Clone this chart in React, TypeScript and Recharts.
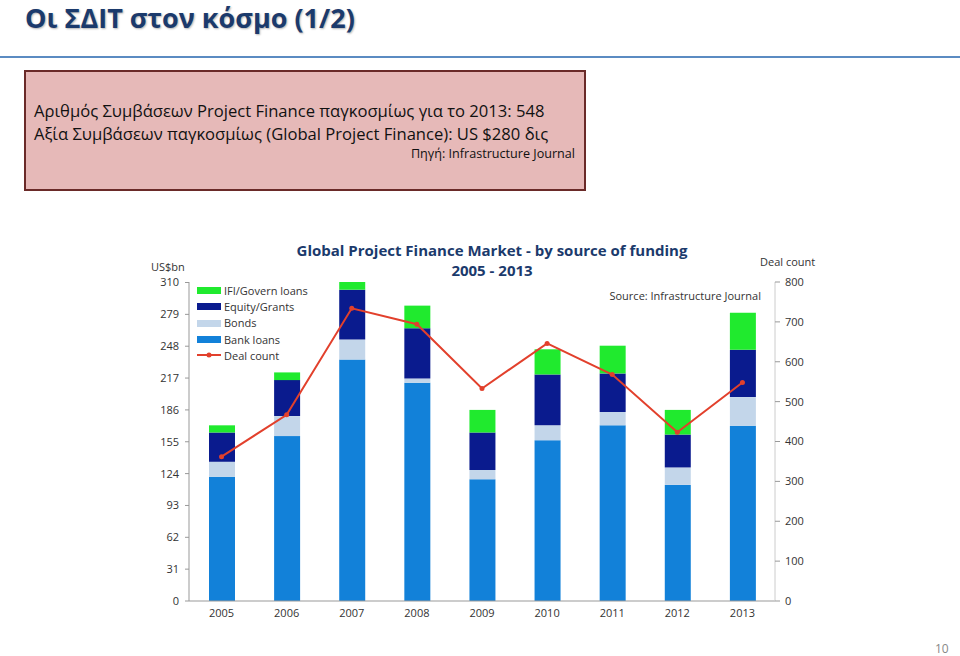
import { ComposedChart, Bar, Line, XAxis, YAxis, Legend } from "recharts";

const years = ["2005", "2006", "2007", "2008", "2009", "2010", "2011", "2012", "2013"];
const bankLoans = [121, 160.5, 235, 212.5, 118.5, 156.5, 171, 113, 170.5];
const bonds = [14.5, 19.5, 19.5, 4, 9, 14.5, 13, 17, 28];
const equity = [28.5, 35, 48.5, 49, 36.5, 49.5, 37.5, 32, 46];
const ifiLoans = [7, 7.5, 7.5, 22, 22, 24.5, 27, 24, 36];
const dealCount = [362, 467, 734, 694, 533, 646, 568, 423, 548];

const leftTicks = [0, 31, 62, 93, 124, 155, 186, 217, 248, 279, 310];
const rightTicks = [0, 100, 200, 300, 400, 500, 600, 700, 800];
const bandEdges = [1, 2, 3, 4, 5, 6, 7, 8];
const legendOrder = ["IFI/Govern loans", "Equity/Grants", "Bonds", "Bank loans", "Deal count"];

const data = years.map((year, i) => ({
  year,
  idx: i + 0.5,
  bank: bankLoans[i],
  bonds: bonds[i],
  equity: equity[i],
  ifi: ifiLoans[i],
  deals: dealCount[i],
}));

const FONT = '"Open Sans", "Noto Sans", sans-serif';
const tickStyle = { fontSize: 11, fill: "#333", fontFamily: FONT };
const navy = "#1b3a6c";

function LegendBox({ payload }: any) {
  const items = [...(payload || [])].sort(
    (a: any, b: any) => legendOrder.indexOf(a.value) - legendOrder.indexOf(b.value)
  );
  return (
    <div style={{ fontFamily: FONT, fontSize: 11, color: "#333" }}>
      {items.map((it: any) => (
        <div key={it.value} style={{ display: "flex", alignItems: "center", height: 16.3 }}>
          <svg width={24} height={10} style={{ marginRight: 3 }}>
            {it.value === "Deal count" ? (
              <>
                <line x1={0} y1={5} x2={24} y2={5} stroke={it.color} strokeWidth={2} />
                <circle cx={12} cy={5} r={2.5} fill={it.color} />
              </>
            ) : (
              <rect x={0} y={2} width={24} height={7} fill={it.color} />
            )}
          </svg>
          <span>{it.value}</span>
        </div>
      ))}
    </div>
  );
}

export default function App() {
  return (
    <div style={{ position: "absolute", left: 0, top: 0, width: 960, height: 656, background: "#fff", overflow: "hidden" }}>
      <div
        style={{
          position: "absolute", left: 25, top: 2, fontFamily: FONT, fontWeight: 700, fontSize: 27,
          lineHeight: "32px", color: navy, textShadow: "1px 1px 2px rgba(0,0,0,0.3)", whiteSpace: "nowrap",
        }}
      >
        Οι ΣΔΙΤ στον κόσμο (1/2)
      </div>
      <div style={{ position: "absolute", left: 0, top: 56, width: 960, height: 2, background: "#5b8bc2" }} />
      <div
        style={{
          position: "absolute", left: 24, top: 70, width: 558, height: 117, background: "#e6b9b8",
          border: "2px solid #6a2a28", fontFamily: FONT, color: "#111",
        }}
      >
        <div style={{ position: "absolute", left: 8, top: 28, fontSize: 16.6, lineHeight: "22px", whiteSpace: "nowrap" }}>
          Αριθμός Συμβάσεων Project Finance παγκοσμίως για το 2013: 548
        </div>
        <div style={{ position: "absolute", left: 8, top: 51, fontSize: 16.6, lineHeight: "22px", whiteSpace: "nowrap" }}>
          Αξία Συμβάσεων παγκοσμίως (Global Project Finance): US $280 δις
        </div>
        <div style={{ position: "absolute", right: 9, top: 74, fontSize: 12.6, lineHeight: "16px", whiteSpace: "nowrap" }}>
          Πηγή: Infrastructure Journal
        </div>
      </div>

      <div style={{ position: "absolute", left: 0, top: 240, width: 960, textAlign: "center", paddingLeft: 24, boxSizing: "border-box", fontFamily: FONT, fontWeight: 700, fontSize: 15, color: navy, lineHeight: "20px" }}>
        Global Project Finance Market - by source of funding
        <br />
        2005 - 2013
      </div>
      <div style={{ position: "absolute", left: 151, top: 259, fontFamily: FONT, fontSize: 11, color: "#333" }}>US$bn</div>
      <div style={{ position: "absolute", left: 760, top: 254, fontFamily: FONT, fontSize: 11, color: "#333" }}>Deal count</div>
      <div style={{ position: "absolute", right: 199, top: 288, fontFamily: FONT, fontSize: 11, color: "#333" }}>
        Source: Infrastructure Journal
      </div>

      <div style={{ position: "absolute", left: 0, top: 0 }}>
        <ComposedChart
          width={960}
          height={656}
          data={data}
          margin={{ top: 282, right: 135, bottom: 24, left: 140 }}
          barSize={26}
        >
          <XAxis
            xAxisId="edge"
            type="number"
            dataKey="idx"
            domain={[0, 9]}
            ticks={bandEdges}
            axisLine={false}
            tick={false}
            tickSize={4}
            tickLine={{ stroke: "#999" }}
            height={1}
          />
          <XAxis
            dataKey="year"
            tick={tickStyle}
            tickLine={false}
            tickSize={0}
            tickMargin={8}
            axisLine={{ stroke: "#999" }}
            height={30}
          />
          <YAxis
            yAxisId="left"
            domain={[0, 310]}
            ticks={leftTicks}
            interval={0}
            width={49}
            tick={tickStyle}
            tickSize={4}
            tickMargin={6}
            tickLine={{ stroke: "#999" }}
            axisLine={{ stroke: "#999" }}
          />
          <YAxis
            yAxisId="right"
            orientation="right"
            domain={[0, 800]}
            ticks={rightTicks}
            interval={0}
            width={50}
            tick={tickStyle}
            tickSize={5}
            tickMargin={5}
            tickLine={{ stroke: "#999" }}
            axisLine={{ stroke: "#ccc" }}
          />
          <Legend
            layout="vertical"
            align="center"
            verticalAlign="middle"
            wrapperStyle={{ left: 197, top: 282, width: 140 }}
            content={<LegendBox />}
          />
          <Bar yAxisId="left" dataKey="bank" name="Bank loans" stackId="a" fill="#1281d9" isAnimationActive={false} />
          <Bar yAxisId="left" dataKey="bonds" name="Bonds" stackId="a" fill="#c3d6ea" isAnimationActive={false} />
          <Bar yAxisId="left" dataKey="equity" name="Equity/Grants" stackId="a" fill="#0a1b8e" isAnimationActive={false} />
          <Bar yAxisId="left" dataKey="ifi" name="IFI/Govern loans" stackId="a" fill="#20ea2e" isAnimationActive={false} />
          <Line
            yAxisId="right"
            dataKey="deals"
            name="Deal count"
            stroke="#e2402c"
            strokeWidth={2}
            dot={{ r: 2.5, fill: "#e2402c", stroke: "#e2402c", strokeWidth: 0 }}
            isAnimationActive={false}
          />
        </ComposedChart>
      </div>

      <div style={{ position: "absolute", left: 935, top: 642, fontFamily: FONT, fontSize: 12, lineHeight: "14px", color: "#888" }}>10</div>
    </div>
  );
}
